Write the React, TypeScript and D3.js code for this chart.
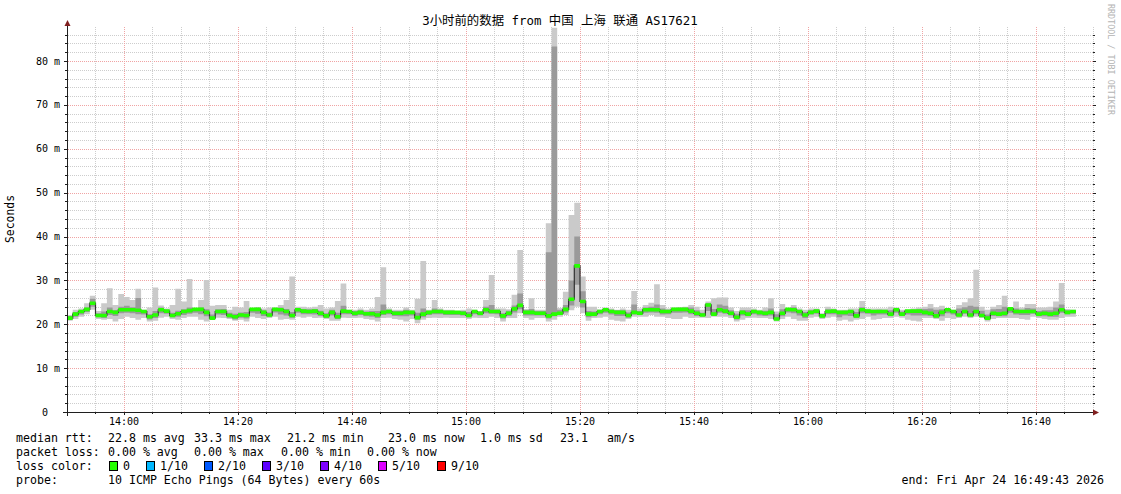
import React, { useRef, useEffect } from 'react';
import * as d3 from 'd3';

// 3 hour window, one step per minute (10 pings each)
const START = new Date(2026, 3, 24, 13, 50, 0);
const END = new Date(2026, 3, 24, 16, 50, 0);
const Y_MAX = 87.75;

const rttMedian = [
  21.4, 22.3, 22.9, 23.4, 24.8, 22.0, 22.0, 22.9, 22.7, 23.3,
  23.3, 23.3, 23.2, 22.9, 21.7, 22.1, 23.3, 23.0, 22.0, 22.4,
  22.9, 23.1, 23.4, 23.4, 22.7, 21.4, 22.9, 22.9, 22.0, 21.7,
  22.1, 22.0, 23.4, 23.4, 22.7, 22.1, 23.4, 23.3, 22.9, 22.0,
  23.3, 23.0, 22.9, 23.0, 22.5,
  21.9, 22.7, 21.7, 23.0, 22.9, 22.5, 22.7, 22.4, 22.4, 22.1,
  22.7, 22.9, 22.5, 22.5, 22.7, 22.7, 21.5, 22.3, 22.7, 22.9,
  22.9, 22.7, 22.7, 22.7, 22.5, 22.0, 22.9, 22.5, 23.3, 22.9,
  22.9, 21.9, 22.5, 23.5, 24.3, 22.7, 22.7, 22.5, 22.5, 21.9,
  22.3, 22.5, 23.4, 25.7, 33.3,
  25.2, 22.3, 22.3, 22.9, 23.3, 22.9, 22.7, 22.7, 22.0, 22.7,
  22.5, 23.3, 23.3, 23.3, 22.9, 22.9, 23.4, 23.4, 23.4, 23.0,
  22.5, 22.1, 24.4, 22.3, 23.3, 23.0, 22.5, 21.6, 22.7, 22.3,
  22.9, 22.7, 22.5, 22.7, 21.2, 22.5, 23.4, 23.3, 22.9, 22.1,
  22.7, 23.0, 21.9, 22.9,
  23.0, 22.7, 22.7, 22.9, 21.9, 23.3, 23.0, 22.9, 22.9, 22.9,
  22.3, 23.3, 22.3, 23.0, 23.0, 23.0, 22.7, 22.5, 21.9, 22.7,
  23.3, 22.9, 22.1, 22.9, 22.1, 22.9, 22.0, 21.4, 22.5, 22.3,
  22.5, 23.5, 22.9, 22.9, 22.9, 22.9, 22.3, 22.5, 22.3, 22.5,
  23.3, 22.7, 22.9,
];

const rttMax = [
  22.1, 23.3, 23.6, 24.8, 26.5, 23.0, 24.8, 28.2, 24.4, 26.9,
  26.2, 25.5, 28.1, 23.3, 23.8, 28.4, 24.3, 23.6, 24.4, 28.1,
  25.2, 30.3, 23.6, 25.5, 30.1, 24.2, 24.4, 24.4, 23.3, 24.0,
  23.8, 25.3, 23.6, 23.6, 23.6, 23.8, 23.8, 24.4, 25.5, 30.9,
  24.0, 24.0, 23.8, 24.0, 24.4,
  23.6, 23.8, 25.3, 29.3, 23.3, 23.3, 23.6, 23.3, 23.6, 26.2,
  33.0, 23.6, 23.3, 23.3, 23.8, 23.3, 25.8, 34.4, 23.3, 25.5,
  23.6, 23.3, 23.3, 23.0, 23.3, 23.6, 23.3, 23.0, 25.5, 31.2,
  23.6, 23.6, 23.4, 26.7, 36.9, 23.5, 25.9, 23.3, 23.3, 43.0,
  87.6, 23.7, 27.4, 44.9, 47.7,
  30.9, 24.0, 24.0, 23.3, 23.8, 23.6, 23.3, 23.6, 23.3, 27.6,
  23.6, 24.4, 24.9, 29.1, 24.4, 23.6, 23.8, 23.6, 24.0, 24.4,
  24.0, 23.3, 25.2, 25.9, 26.1, 26.1, 23.8, 23.0, 23.8, 23.8,
  23.6, 23.3, 23.8, 25.9, 22.9, 24.6, 23.6, 24.4, 23.6, 23.3,
  23.6, 23.6, 22.5, 24.0,
  23.6, 23.3, 23.3, 23.6, 23.6, 25.3, 23.6, 23.6, 23.6, 23.6,
  24.0, 23.8, 23.3, 23.3, 23.6, 23.8, 24.0, 24.6, 23.9, 24.2,
  23.6, 23.3, 24.4, 25.0, 25.9, 32.4, 24.0, 23.3, 24.0, 24.4,
  26.5, 23.8, 25.2, 23.8, 24.6, 24.6, 23.8, 23.8, 24.0, 25.2,
  29.4, 23.5, 23.3,
];

const rttMin = [
  20.8, 21.2, 21.7, 22.3, 23.3, 21.2, 21.0, 21.2, 20.6, 21.2,
  21.7, 21.4, 21.0, 21.4, 20.6, 20.8, 21.5, 21.7, 21.2, 21.0,
  21.4, 21.7, 21.7, 21.0, 20.6, 21.0, 21.5, 21.4, 21.2, 20.8,
  21.0, 20.6, 21.7, 21.4, 21.2, 21.4, 21.7, 21.0, 21.2, 21.0,
  21.7, 21.5, 21.7, 21.4, 21.5,
  21.2, 20.8, 20.8, 21.5, 21.4, 21.4, 21.5, 21.2, 21.0, 20.6,
  21.4, 21.5, 21.2, 21.0, 20.6, 21.2, 20.2, 21.0, 21.4, 21.5,
  21.4, 21.5, 21.4, 21.4, 21.4, 21.2, 21.5, 21.4, 21.4, 21.7,
  21.4, 20.6, 21.4, 21.4, 22.5, 21.4, 21.0, 21.4, 21.4, 20.6,
  21.0, 21.7, 22.1, 23.2, 24.0,
  22.5, 20.8, 21.4, 21.5, 21.7, 21.0, 20.8, 20.6, 21.2, 21.7,
  21.7, 21.7, 22.1, 21.7, 21.7, 21.4, 21.2, 21.2, 21.7, 21.4,
  21.5, 21.5, 21.4, 21.7, 21.7, 21.7, 21.4, 20.6, 21.0, 21.4,
  21.5, 21.4, 21.4, 21.2, 20.6, 21.2, 21.7, 21.2, 20.8, 20.8,
  21.5, 21.7, 21.2, 21.5,
  21.7, 20.8, 21.0, 20.6, 21.0, 21.2, 21.7, 21.0, 21.2, 21.4,
  21.4, 21.7, 21.5, 21.0, 20.8, 20.6, 21.4, 21.4, 21.2, 20.8,
  21.4, 21.2, 21.4, 21.7, 21.4, 21.7, 21.5, 20.6, 21.2, 21.4,
  21.4, 21.4, 21.4, 21.2, 21.0, 21.7, 21.4, 21.2, 21.0, 21.0,
  21.4, 21.7, 21.7,
];

// inner smoke band (3rd / 8th ping)
const rttLo = [
  21.1, 21.7, 22.2, 22.8, 24.0, 21.6, 21.4, 22.1, 21.9, 22.5,
  22.6, 22.5, 22.3, 22.2, 21.1, 21.4, 22.5, 22.4, 21.6, 21.7,
  22.1, 22.4, 22.6, 22.3, 21.8, 21.2, 22.2, 22.1, 21.5, 21.1,
  21.5, 21.3, 22.6, 22.4, 21.9, 21.7, 22.7, 22.2, 22.0, 21.5,
  22.6, 22.3, 22.3, 22.2, 21.9,
  21.4, 22.0, 21.2, 22.3, 22.3, 21.9, 22.1, 21.8, 21.7, 21.4,
  22.1, 22.3, 21.9, 21.8, 21.8, 22.0, 21.0, 21.6, 22.1, 22.3,
  22.3, 22.1, 22.1, 22.1, 22.0, 21.6, 22.3, 22.0, 22.5, 22.4,
  22.3, 21.3, 21.9, 22.7, 23.4, 22.0, 22.0, 22.0, 22.0, 21.3,
  21.8, 22.2, 22.7, 24.3, 29.0,
  23.8, 21.6, 21.8, 22.3, 22.6, 22.2, 21.9, 21.9, 21.5, 22.2,
  22.1, 22.6, 22.7, 22.6, 22.2, 22.3, 22.6, 22.6, 22.7, 22.3,
  21.9, 21.8, 23.0, 21.9, 22.6, 22.4, 22.0, 21.1, 22.0, 21.8,
  22.3, 22.0, 21.9, 22.0, 21.0, 21.8, 22.7, 22.5, 22.0, 21.4,
  22.2, 22.4, 21.5, 22.3,
  22.3, 21.6, 22.0, 21.9, 21.4, 22.5, 22.4, 22.0, 22.2, 22.2,
  21.8, 22.6, 21.9, 22.2, 22.0, 22.0, 22.0, 21.9, 21.5, 21.8,
  22.5, 22.2, 21.8, 22.4, 21.7, 22.3, 21.6, 21.0, 21.9, 21.8,
  21.8, 22.6, 22.2, 22.1, 22.1, 22.4, 21.8, 21.8, 21.7, 21.7,
  22.6, 22.3, 22.4,
];

const rttHi = [
  21.9, 22.8, 23.2, 23.8, 25.8, 22.5, 22.9, 23.8, 23.2, 24.0,
  24.2, 23.9, 26.0, 23.1, 22.3, 23.0, 23.8, 23.3, 22.6, 23.1,
  23.4, 23.8, 23.7, 23.8, 23.4, 22.2, 23.4, 23.5, 22.6, 22.4,
  22.7, 22.8, 23.7, 23.8, 23.2, 22.7, 23.7, 23.8, 23.5, 22.8,
  23.6, 23.5, 23.4, 23.5, 23.1,
  22.5, 23.3, 22.6, 24.2, 23.1, 23.0, 23.2, 22.9, 23.0, 23.0,
  24.5, 23.3, 23.0, 23.0, 23.3, 23.0, 22.6, 23.6, 23.0, 23.6,
  23.3, 23.1, 23.1, 23.0, 23.0, 22.8, 23.2, 22.9, 24.0, 24.4,
  23.3, 22.5, 23.1, 24.3, 27.0, 23.2, 23.5, 23.0, 23.0, 36.4,
  83.3, 23.3, 24.4, 30.0, 40.0,
  27.5, 23.0, 22.9, 23.3, 23.7, 23.3, 23.2, 23.2, 22.7, 24.5,
  23.0, 23.8, 24.0, 24.5, 23.6, 23.3, 23.6, 23.8, 23.8, 23.8,
  23.2, 22.6, 24.8, 23.5, 24.5, 24.2, 23.2, 22.4, 23.2, 23.2,
  23.2, 23.0, 23.1, 23.6, 22.3, 23.4, 23.3, 23.9, 23.2, 22.8,
  23.2, 23.4, 22.2, 23.4,
  23.3, 23.0, 23.1, 23.2, 22.8, 23.9, 23.3, 23.2, 23.3, 23.2,
  23.2, 23.6, 22.9, 23.1, 23.3, 23.4, 23.5, 23.6, 23.3, 23.4,
  23.4, 23.1, 23.6, 23.9, 24.2, 24.0, 23.1, 22.2, 23.4, 23.5,
  24.0, 23.6, 23.6, 23.3, 23.7, 23.6, 23.0, 23.2, 23.2, 23.8,
  24.5, 23.2, 23.1,
];

const TITLE = '3小时前的数据 from 中国 上海 联通 AS17621';
const rttStats = ['22.8 ms avg', '33.3 ms max', '21.2 ms min', '23.0 ms now', '1.0 ms sd', '23.1', 'am/s'];
const rttStatX = [108, 194, 287, 388, 480, 560, 607];
const lossStats = ['0.00 % avg', '0.00 % max', '0.00 % min', '0.00 % now'];
const lossStatX = [108, 194, 281, 367];
const lossLabels = ['0', '1/10', '2/10', '3/10', '4/10', '5/10', '9/10'];
const lossColors = ['#26ff00', '#00b8ff', '#0059ff', '#5e00ff', '#7e00ff', '#dd00ff', '#ff0000'];
const lossBoxX = [109, 146, 204, 262, 320, 378, 437];
const PROBE = '10 ICMP Echo Pings (64 Bytes) every 60s';
const END_LABEL = 'end: Fri Apr 24 16:49:43 2026';

const MONO = "'DejaVu Sans Mono', monospace";

const App: React.FC = () => {
  const svgRef = useRef<SVGSVGElement>(null);

  useEffect(() => {
    if (!svgRef.current) return;
    const svg = d3.select(svgRef.current);
    svg.selectAll('*').remove();

    const left = 67, right = 1093, top = 27, bottom = 412;
    const x = d3.scaleTime().domain([START, END]).range([left, right]);
    const y = d3.scaleLinear().domain([0, Y_MAX]).range([bottom, top]);

    svg.append('rect').attr('width', 1121).attr('height', 494).attr('fill', '#fff');

    // dotted grid, underneath the smoke
    const minorCol = '#cdcdcd';
    const majorCol = '#f0a4a4';
    const grid = svg.append('g').attr('stroke-dasharray', '1,1').attr('stroke-width', 1);
    d3.range(2, Y_MAX, 2).forEach((g) => {
      const major = g % 10 === 0;
      const yy = Math.round(y(g)) + 0.5;
      grid
        .append('line')
        .attr('x1', left + 1)
        .attr('x2', right)
        .attr('y1', yy)
        .attr('y2', yy)
        .attr('stroke', major ? majorCol : minorCol);
    });
    const majorTimes = x.ticks(d3.timeMinute.every(20)!);
    const minorTimes = x.ticks(d3.timeMinute.every(5)!);
    minorTimes.forEach((d) => {
      const major = majorTimes.some((m) => +m === +d);
      const xx = Math.floor(x(d)) + 0.5;
      if (xx <= left + 1) return;
      grid
        .append('line')
        .attr('x1', xx)
        .attr('x2', xx)
        .attr('y1', top)
        .attr('y2', bottom)
        .attr('stroke', major ? majorCol : minorCol);
    });

    // smoke: one extra index so the last step gets its width
    const n = rttMedian.length;
    const idx = d3.range(n + 1);
    const t = (i: number) => d3.timeMinute.offset(START, i);
    const v = (arr: number[], i: number) => arr[Math.min(i, n - 1)];
    const band = (lo: number[], hi: number[]) =>
      d3
        .area<number>()
        .curve(d3.curveStepAfter)
        .x((i) => x(t(i)))
        .y0((i) => y(v(lo, i)))
        .y1((i) => y(v(hi, i)));

    const plot = svg.append('g');
    plot.append('path').attr('d', band(rttMin, rttMax)(idx)).attr('fill', '#cacaca');
    plot.append('path').attr('d', band(rttLo, rttHi)(idx)).attr('fill', '#9a9a9a');

    // median: dark step line, then loss-coloured band
    const medLine = d3
      .line<number>()
      .curve(d3.curveStepAfter)
      .x((i) => x(t(i)))
      .y((i) => y(v(rttMedian, i)));
    plot
      .append('path')
      .attr('d', medLine(idx))
      .attr('fill', 'none')
      .attr('stroke', '#303030')
      .attr('stroke-width', 1.2);
    const medBand = d3
      .area<number>()
      .curve(d3.curveStepAfter)
      .x((i) => x(t(i)))
      .y0((i) => y(v(rttMedian, i)) + 1.8)
      .y1((i) => y(v(rttMedian, i)) - 1.8);
    plot.append('path').attr('d', medBand(idx)).attr('fill', lossColors[0]);

    // axis lines and ticks
    const axisCol = '#1f1f1f';
    const ax = svg.append('g').attr('stroke', axisCol).attr('stroke-width', 1);
    ax.append('line').attr('x1', left - 4).attr('x2', right + 1).attr('y1', bottom + 0.5).attr('y2', bottom + 0.5);
    ax.append('line').attr('x1', left + 0.5).attr('x2', left + 0.5).attr('y1', bottom + 4).attr('y2', top - 1);
    d3.range(2, Y_MAX, 2).forEach((g) => {
      const yy = Math.round(y(g)) + 0.5;
      const len = g % 10 === 0 ? 3 : 2;
      ax.append('line').attr('x1', left - len).attr('x2', left).attr('y1', yy).attr('y2', yy);
      ax.append('line').attr('x1', right).attr('x2', right + len).attr('y1', yy).attr('y2', yy);
    });
    minorTimes.forEach((d) => {
      const xx = Math.floor(x(d)) + 0.5;
      const major = majorTimes.some((m) => +m === +d);
      ax.append('line').attr('x1', xx).attr('x2', xx).attr('y1', bottom).attr('y2', bottom + (major ? 3 : 2));
    });

    const arrow = '#801f1f';
    svg
      .append('path')
      .attr('d', `M${left + 0.5},${top - 7} L${left + 3.5},${top - 1} L${left - 2.5},${top - 1} Z`)
      .attr('fill', arrow);
    svg
      .append('path')
      .attr('d', `M${right + 6},${bottom + 0.5} L${right},${bottom - 2.5} L${right},${bottom + 3.5} Z`)
      .attr('fill', arrow);

    // tick labels
    const yTicks = d3.range(0, 90, 10);
    svg
      .append('g')
      .selectAll('text')
      .data(yTicks)
      .join('text')
      .attr('x', (d) => (d === 0 ? 48 : 60))
      .attr('y', (d) => y(d))
      .attr('dy', '0.35em')
      .attr('text-anchor', 'end')
      .attr('font-family', MONO)
      .attr('font-size', 10)
      .attr('fill', '#000')
      .text((d) => (d === 0 ? '0' : `${d} m`));

    const fmt = d3.timeFormat('%H:%M');
    svg
      .append('g')
      .selectAll('text')
      .data(majorTimes)
      .join('text')
      .attr('x', (d) => x(d))
      .attr('y', 425)
      .attr('text-anchor', 'middle')
      .attr('font-family', MONO)
      .attr('font-size', 10)
      .attr('fill', '#000')
      .text((d) => fmt(d));

    // title, axis label, watermark
    svg
      .append('text')
      .attr('x', 560)
      .attr('y', 25)
      .attr('text-anchor', 'middle')
      .attr('font-family', "'DejaVu Sans Mono', 'Noto Sans CJK SC', monospace")
      .attr('font-size', 12.4)
      .text(TITLE);
    svg
      .append('text')
      .attr('transform', 'translate(14,219) rotate(-90)')
      .attr('text-anchor', 'middle')
      .attr('font-family', MONO)
      .attr('font-size', 11.4)
      .text('Seconds');
    svg
      .append('text')
      .attr('transform', 'translate(1108,4) rotate(90)')
      .attr('font-family', MONO)
      .attr('font-size', 8.4)
      .attr('fill', '#b4b4b4')
      .text('RRDTOOL / TOBI OETIKER');

    // legend block
    const leg = svg.append('g').attr('font-family', MONO).attr('font-size', 11.6).attr('fill', '#000');
    const rows = [442, 456, 470, 484];
    leg.append('text').attr('x', 16).attr('y', rows[0]).text('median rtt:');
    rttStats.forEach((s, i) => leg.append('text').attr('x', rttStatX[i]).attr('y', rows[0]).text(s));
    leg.append('text').attr('x', 16).attr('y', rows[1]).text('packet loss:');
    lossStats.forEach((s, i) => leg.append('text').attr('x', lossStatX[i]).attr('y', rows[1]).text(s));
    leg.append('text').attr('x', 16).attr('y', rows[2]).text('loss color:');
    lossLabels.forEach((s, i) => {
      leg
        .append('rect')
        .attr('x', lossBoxX[i] + 0.5)
        .attr('y', rows[2] - 8.5)
        .attr('width', 8)
        .attr('height', 9)
        .attr('fill', lossColors[i])
        .attr('stroke', '#000');
      leg.append('text').attr('x', lossBoxX[i] + 14).attr('y', rows[2]).text(s);
    });
    leg.append('text').attr('x', 16).attr('y', rows[3]).text('probe:');
    leg.append('text').attr('x', 108).attr('y', rows[3]).text(PROBE);
    leg.append('text').attr('x', 1104).attr('y', rows[3]).attr('text-anchor', 'end').text(END_LABEL);
  }, []);

  return (
    <svg
      ref={svgRef}
      width={1121}
      height={494}
      style={{ position: 'absolute', left: 0, top: 0, display: 'block' }}
    />
  );
};

export default App;
